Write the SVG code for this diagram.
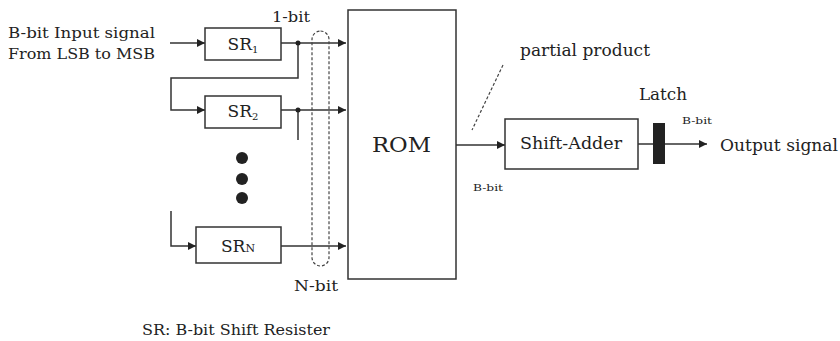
<svg xmlns="http://www.w3.org/2000/svg" width="840" height="341" viewBox="0 0 840 341">
<style>
.box{fill:#fff;stroke:#333;stroke-width:1.5}
.ln{fill:none;stroke:#333;stroke-width:1.5}
.t{font-family:"DejaVu Serif","Liberation Serif",serif;fill:#222}
.dash{fill:none;stroke:#444;stroke-width:1.2;stroke-dasharray:3,2}
</style>
<defs>
<marker id="ah" viewBox="0 0 10 10" refX="10" refY="5" markerWidth="8" markerHeight="8" markerUnits="userSpaceOnUse" orient="auto">
<path d="M0,0 L10,5 L0,10 z" fill="#222"/>
</marker>
</defs>
<rect width="840" height="341" fill="#fff"/>
<text class="t" x="8" y="38" font-size="15" textLength="147" lengthAdjust="spacingAndGlyphs">B-bit Input signal</text>
<text class="t" x="8" y="59" font-size="15" textLength="147" lengthAdjust="spacingAndGlyphs">From LSB to MSB</text>
<text class="t" x="272" y="22" font-size="15" textLength="38" lengthAdjust="spacingAndGlyphs">1-bit</text>
<g id="connectors">
<path class="ln" d="M170,43 H205" marker-end="url(#ah)" stroke="#666"/>
<path class="ln" d="M281,43 H346" marker-end="url(#ah)"/>
<path class="ln" d="M298,43 V78 H171 V110 H205" marker-end="url(#ah)"/>
<path class="ln" d="M281,110 H346" marker-end="url(#ah)"/>
<path class="ln" d="M298,110 V140"/>
<path class="ln" d="M171,211 V246 H196" marker-end="url(#ah)"/>
<path class="ln" d="M281,246 H346" marker-end="url(#ah)"/>
<path class="ln" d="M456,145 H505" marker-end="url(#ah)"/>
<path class="ln" d="M638,144 H707" marker-end="url(#ah)"/>
<path class="dash" d="M503,65 L472,130"/>
<circle cx="298" cy="43" r="2.5" fill="#222"/>
<circle cx="298" cy="110" r="2.5" fill="#222"/>
</g>
<rect class="dash" x="312" y="31" width="17" height="235" rx="8.5"/>
<g id="sr1"><rect class="box" x="205" y="28" width="76" height="32"/>
<text class="t" x="243" y="50" font-size="17" text-anchor="middle">SR<tspan font-size="10" dy="3">1</tspan></text></g>
<g id="sr2"><rect class="box" x="205" y="96" width="76" height="32"/>
<text class="t" x="243" y="117" font-size="17" text-anchor="middle">SR<tspan font-size="10" dy="3">2</tspan></text></g>
<g id="dots"><circle cx="242" cy="158" r="6" fill="#222"/><circle cx="242" cy="179" r="6" fill="#222"/><circle cx="242" cy="198" r="6" fill="#222"/></g>
<g id="srn"><rect class="box" x="196" y="227" width="85" height="36"/>
<text class="t" x="238" y="252" font-size="17" text-anchor="middle">SR<tspan font-size="11">N</tspan></text></g>
<g id="rom"><rect class="box" x="348" y="10" width="108" height="269"/>
<text class="t" x="372" y="152" font-size="21" textLength="59" lengthAdjust="spacingAndGlyphs">ROM</text></g>
<text class="t" x="520" y="56" font-size="16" textLength="130" lengthAdjust="spacingAndGlyphs">partial product</text>
<text class="t" x="473" y="191" font-size="10" textLength="30" lengthAdjust="spacingAndGlyphs">B-bit</text>
<g id="adder"><rect class="box" x="505" y="119" width="133" height="50"/>
<text class="t" x="520" y="149" font-size="16" textLength="102" lengthAdjust="spacingAndGlyphs">Shift-Adder</text></g>
<g id="latch"><rect x="653" y="123" width="12" height="41" fill="#222"/>
<text class="t" x="639" y="100" font-size="16" textLength="48" lengthAdjust="spacingAndGlyphs">Latch</text></g>
<text class="t" x="682" y="124" font-size="10" textLength="30" lengthAdjust="spacingAndGlyphs">B-bit</text>
<text class="t" x="720" y="151" font-size="17" textLength="118" lengthAdjust="spacingAndGlyphs">Output signal</text>
<text class="t" x="294" y="291" font-size="15" textLength="44" lengthAdjust="spacingAndGlyphs">N-bit</text>
<text class="t" x="142" y="335" font-size="14" textLength="188" lengthAdjust="spacingAndGlyphs">SR: B-bit Shift Resister</text>
</svg>
